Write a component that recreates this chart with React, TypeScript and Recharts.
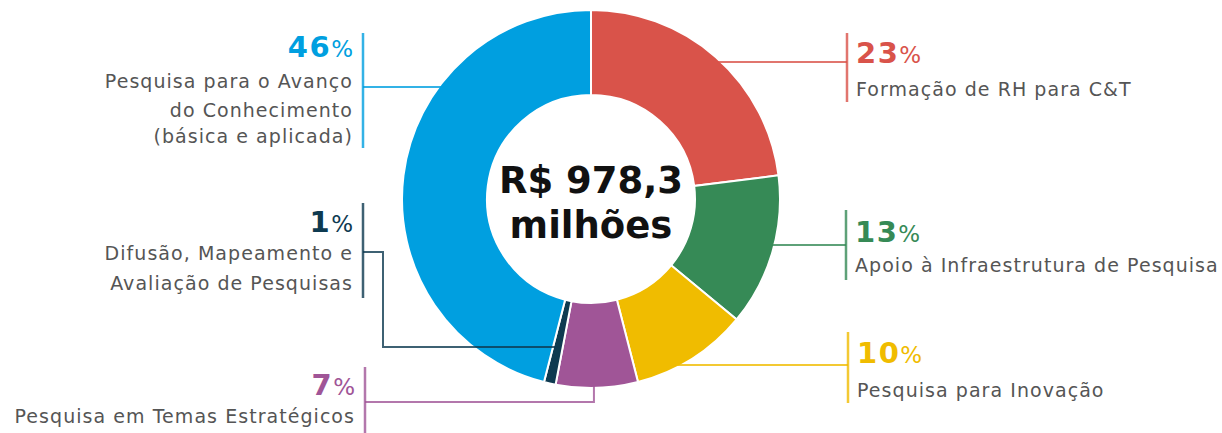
import React from 'react';
import { PieChart, Pie, Cell } from 'recharts';

const categories = [
  'Formação de RH para C&T',
  'Apoio à Infraestrutura de Pesquisa',
  'Pesquisa para Inovação',
  'Pesquisa em Temas Estratégicos',
  'Difusão, Mapeamento e Avaliação de Pesquisas',
  'Pesquisa para o Avanço do Conhecimento (básica e aplicada)',
];
const shares = [23, 13, 10, 7, 1, 46];
const labelLines = [
  ['Formação de RH para C&T'],
  ['Apoio à Infraestrutura de Pesquisa'],
  ['Pesquisa para Inovação'],
  ['Pesquisa em Temas Estratégicos'],
  ['Difusão, Mapeamento e', 'Avaliação de Pesquisas'],
  ['Pesquisa para o Avanço', 'do Conhecimento', '(básica e aplicada)'],
];
const colors = ['#D9534A', '#368A56', '#F0BC00', '#A05597', '#0E3A50', '#009FE0'];
const totalLines = ['R$ 978,3', 'milhões'];

const data = categories.map((name, i) => ({ name, value: shares[i] }));

// layout of the annotation blocks (label positions only)
type Lay = {
  side: 'left' | 'right';
  barX: number; barTop: number; barBottom: number;
  leaderY: number; pctY: number; lineY: number[];
  mode: 'edge' | 'drop' | 'elbow';
  elbowY?: number; elbowX?: number;
};
const layout: Lay[] = [
  { side: 'right', barX: 847, barTop: 33, barBottom: 102, leaderY: 62, pctY: 63, lineY: [96], mode: 'edge' },
  { side: 'right', barX: 846, barTop: 210, barBottom: 280, leaderY: 245, pctY: 242, lineY: [272], mode: 'edge' },
  { side: 'right', barX: 848, barTop: 332, barBottom: 403, leaderY: 365, pctY: 363, lineY: [397], mode: 'edge' },
  { side: 'left', barX: 365, barTop: 367, barBottom: 440, leaderY: 402, pctY: 395, lineY: [423], mode: 'drop' },
  { side: 'left', barX: 363, barTop: 203, barBottom: 298, leaderY: 347, pctY: 232, lineY: [260, 290], mode: 'elbow', elbowY: 252, elbowX: 383 },
  { side: 'left', barX: 363, barTop: 33, barBottom: 148, leaderY: 87, pctY: 57, lineY: [88, 117, 143], mode: 'edge' },
];

const RAD = Math.PI / 180;
const labelFont = '"DejaVu Sans", sans-serif';

const renderLabel = (props: any) => {
  const { cx, cy, midAngle, outerRadius, index } = props;
  const L = layout[index];
  const color = colors[index];
  const right = L.side === 'right';
  const textX = right ? L.barX + 9 : L.barX - 10;
  const anchor = right ? 'start' : 'end';
  let path = '';
  if (L.mode === 'edge') {
    const dy = L.leaderY - cy;
    const dx = Math.sqrt(Math.max(0, outerRadius * outerRadius - dy * dy));
    const x0 = right ? cx + dx - 4 : cx - dx + 4;
    path = `M${x0},${L.leaderY} L${L.barX},${L.leaderY}`;
  } else if (L.mode === 'drop') {
    const px = cx + outerRadius * Math.cos(-midAngle * RAD) - 3;
    const py = cy + outerRadius * Math.sin(-midAngle * RAD);
    path = `M${px},${py - 2} L${px},${L.leaderY} L${L.barX},${L.leaderY}`;
  } else {
    const s = Math.sin(-midAngle * RAD);
    const r = (L.leaderY - cy) / s;
    const px = cx + r * Math.cos(-midAngle * RAD);
    path = `M${L.barX},${L.elbowY} L${L.elbowX},${L.elbowY} L${L.elbowX},${L.leaderY} L${px},${L.leaderY}`;
  }
  return (
    <g key={`lab-${index}`}>
      <path d={path} stroke={color} strokeOpacity={0.8} strokeWidth={2} fill="none" />
      <line x1={L.barX} x2={L.barX} y1={L.barTop} y2={L.barBottom} stroke={color} strokeOpacity={0.8} strokeWidth={2.5} />
      <text x={textX} y={L.pctY} textAnchor={anchor} fill={color} fontFamily={labelFont}>
        <tspan fontSize={29} fontWeight={700} letterSpacing={1.5}>{shares[index]}</tspan>
        <tspan fontSize={23} fontWeight={400}>%</tspan>
      </text>
      {labelLines[index].map((t, k) => (
        <text key={k} x={textX} y={L.lineY[k]} textAnchor={anchor} fill="#555555" fontSize={19} fontFamily={labelFont} letterSpacing={1.05}>
          {t}
        </text>
      ))}
    </g>
  );
};

export default function App() {
  return (
    <div style={{ position: 'absolute', left: 0, top: 0, width: 1222, height: 433, background: '#fff' }}>
      <PieChart width={1222} height={433} margin={{ top: 0, right: 0, bottom: 0, left: 0 }}>
        <Pie
          data={data}
          dataKey="value"
          nameKey="name"
          cx={591}
          cy={199}
          innerRadius={104}
          outerRadius={189}
          startAngle={90}
          endAngle={-270}
          stroke="#ffffff"
          strokeWidth={2}
          isAnimationActive={false}
          labelLine={false}
          label={renderLabel}
        >
          {data.map((d, i) => (
            <Cell key={d.name} fill={colors[i]} />
          ))}
        </Pie>
        <text x={591} y={193} textAnchor="middle" fontFamily={labelFont} fontWeight={700} fontSize={37} fill="#111">
          {totalLines[0]}
        </text>
        <text x={591} y={238} textAnchor="middle" fontFamily={labelFont} fontWeight={700} fontSize={37} fill="#111">
          {totalLines[1]}
        </text>
      </PieChart>
    </div>
  );
}
